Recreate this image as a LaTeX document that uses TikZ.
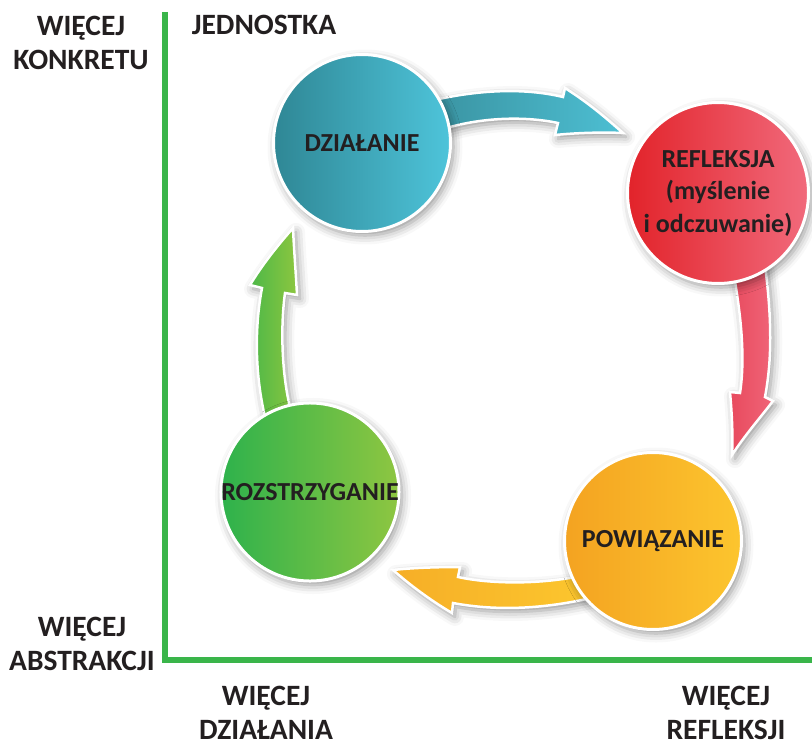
\documentclass[tikz,border=0pt]{standalone}
\usepackage{fontspec}
\setmainfont{Carlito}
\usetikzlibrary{shadows.blur}

\definecolor{txt}{HTML}{231F20}
\definecolor{axisgreen}{HTML}{3AB54A}
\definecolor{tealD}{HTML}{2F8795}
\definecolor{tealL}{HTML}{4EC4DA}
\definecolor{tealAD}{HTML}{3A93A1}
\definecolor{tealAL}{HTML}{4DBFD3}
\definecolor{redD}{HTML}{E2232A}
\definecolor{redL}{HTML}{F16A7C}
\definecolor{redAD}{HTML}{E84A5E}
\definecolor{redAL}{HTML}{F06578}
\definecolor{yelD}{HTML}{F4A321}
\definecolor{yelL}{HTML}{FCC52E}
\definecolor{yelAD}{HTML}{F6AE27}
\definecolor{yelAL}{HTML}{FCC72E}
\definecolor{grnD}{HTML}{2EB24C}
\definecolor{grnL}{HTML}{8EC641}
\definecolor{grnAD}{HTML}{4DB848}
\definecolor{grnAL}{HTML}{8CC63F}

\tikzset{
  lbl/.style={font=\bfseries\fontsize{29.5}{34}\selectfont, text=txt, align=center, inner sep=0},
  axisline/.style={draw=axisgreen, line width=6pt},
  softshadow/.style={blur shadow={shadow xshift=3pt, shadow yshift=-4pt,
      shadow blur radius=9pt, shadow opacity=42}},
  stage/.style={circle, draw=white, line width=3pt, minimum size=177pt,
      inner sep=0, softshadow, text=txt, align=center,
      font=\bfseries\fontsize{26}{32.5}\selectfont},
  bigarrow/.style={draw=white, line width=2.5pt, line join=miter, softshadow}
}

\begin{document}
\begin{tikzpicture}[x=1pt, y=-1pt]
\useasboundingbox (0,0) rectangle (812,746);

% axis labels
\node[lbl] (konkret) at (81,43) {WIĘCEJ\\KONKRETU};
\node[lbl] (jedn) at (264,25) {JEDNOSTKA};
\node[lbl] (abstr) at (82,644) {WIĘCEJ\\ABSTRAKCJI};
\node[lbl] (dzial) at (266,713) {WIĘCEJ\\DZIAŁANIA};
\node[lbl] (refl) at (726,713) {WIĘCEJ\\REFLEKSJI};

% axes
\coordinate (ytop) at (165,12);
\coordinate (orig) at (165,660);
\coordinate (xend) at (812,660);
\draw[axisline] (ytop) -- (orig) -- (xend);

% curved block arrows (drawn below the circles)
\path[bigarrow, left color=tealAD, right color=tealAL]
  (430,101) .. controls (485,88) and (530,89) .. (563,97)
  -- (565,88)
  .. controls (590,104) and (606,118) .. (623,133)
  .. controls (600,132) and (575,133) .. (555,135)
  -- (558,123)
  .. controls (525,116) and (480,117) .. (440,130)
  -- cycle;

\path[bigarrow, left color=redAD, right color=redAL]
  (733,270) .. controls (742,320) and (745,360) .. (740,393)
  -- (730,392)
  .. controls (732,415) and (733,435) .. (732,455)
  .. controls (745,435) and (760,418) .. (773,401)
  -- (765,397)
  .. controls (772,360) and (772,320) .. (765,265)
  -- cycle;

\path[bigarrow, left color=yelAD, right color=yelAL]
  (585,575) .. controls (540,585) and (490,584) .. (458,577)
  -- (460,567)
  .. controls (435,567) and (410,568) .. (393,570)
  .. controls (410,585) and (430,600) .. (452,613)
  -- (453,603)
  .. controls (500,612) and (550,608) .. (595,597)
  -- cycle;

\path[bigarrow, left color=grnAD, right color=grnAL]
  (267,425) .. controls (255,380) and (254,330) .. (262,288)
  -- (250,285)
  .. controls (262,265) and (278,245) .. (293,228)
  .. controls (294,250) and (296,275) .. (297,295)
  -- (285,293)
  .. controls (280,330) and (282,380) .. (292,415)
  -- cycle;

% stages of the cycle
\node[stage, left color=tealD, right color=tealL] (act) at (362,143) {DZIAŁANIE};
\node[stage, minimum size=181pt, left color=redD, right color=redL] (reflect) at (718,193)
  {REFLEKSJA\\(myślenie\\i odczuwanie)};
\node[stage, left color=yelD, right color=yelL] (link) at (653,541) {POWIĄZANIE};
\node[stage, left color=grnD, right color=grnL] (decide) at (310,492) {ROZSTRZYGANIE};
\end{tikzpicture}
\end{document}
